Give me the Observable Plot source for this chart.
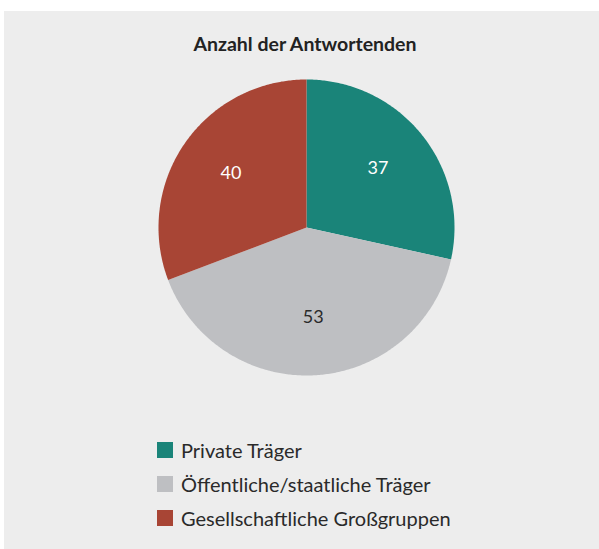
<!DOCTYPE html>
<html>
<head>
<meta charset="utf-8">
<script src="https://cdn.jsdelivr.net/npm/d3@7"></script>
<script src="https://cdn.jsdelivr.net/npm/@observablehq/plot@0.6"></script>
<style>
  html, body { margin: 0; padding: 0; background: #ffffff; width: 599px; height: 549px; overflow: hidden; }
  #panel { position: absolute; left: 4px; top: 11px; right: 0; bottom: 0; background: #ededed; }
  #title { position: absolute; left: 0; width: 610px; top: 32px; text-align: center; font-family: Lato, sans-serif; font-weight: bold; font-size: 19.5px; color: #222; }
  #chart { position: absolute; left: 155.5px; top: 76.5px; }
  #legend { position: absolute; left: 157px; top: 437px; font-family: Lato, sans-serif; font-size: 20px; color: #2a2a2a; }
  .row { position: relative; height: 34px; line-height: 26px; }
  .sw { position: absolute; left: 0; top: 5px; width: 16px; height: 16px; }
  .lab { position: absolute; left: 24px; top: 0; white-space: nowrap; }
</style>
</head>
<body>
<div id="panel"></div>
<div id="title">Anzahl der Antwortenden</div>
<div id="chart"></div>
<div id="legend"></div>
<script>
const categories = ["Private Träger", "Öffentliche/staatliche Träger", "Gesellschaftliche Großgruppen"];
const values = [37, 53, 40];
const colors = ["#1a8479", "#bebfc2", "#a84535"];
const labelColors = ["#ffffff", "#2a2a2a", "#ffffff"];

const pie = d3.pie().sort(null).value(d => d.value)(categories.map((c, i) => ({cat: c, value: values[i]})));

// Build slice polygons in unit coordinates (angle 0 = top, clockwise)
const pts = [];
pie.forEach(p => {
  const n = Math.max(2, Math.ceil((p.endAngle - p.startAngle) / 0.01));
  pts.push({cat: p.data.cat, x: 0, y: 0});
  for (let k = 0; k <= n; k++) {
    const a = p.startAngle + (p.endAngle - p.startAngle) * k / n;
    pts.push({cat: p.data.cat, x: Math.sin(a), y: Math.cos(a)});
  }
  pts.push({cat: p.data.cat, x: 0, y: 0});
});
const labels = pie.map((p, i) => {
  const a = (p.startAngle + p.endAngle) / 2;
  const r = 0.62;
  return {cat: p.data.cat, value: p.data.value, x: r * Math.sin(a), y: r * Math.cos(a), color: labelColors[i]};
});

const chart = Plot.plot({
  width: 300, height: 300,
  margin: 2,
  x: {domain: [-1, 1], axis: null},
  y: {domain: [-1, 1], axis: null},
  color: {domain: categories, range: colors},
  style: {background: "transparent", overflow: "visible"},
  marks: [
    ...categories.map(c => Plot.line(pts.filter(d => d.cat === c), {x: "x", y: "y", fill: colors[categories.indexOf(c)], stroke: "none", curve: "linear"})),
    Plot.text(labels, {x: "x", y: "y", text: "value", fill: "color", fontSize: 18, dy: -2, fontFamily: "Lato, sans-serif"})
  ]
});
document.getElementById("chart").appendChild(chart);

const legend = document.getElementById("legend");
categories.forEach((c, i) => {
  const row = document.createElement("div");
  row.className = "row";
  row.innerHTML = `<div class="sw" style="background:${colors[i]}"></div><div class="lab">${c}</div>`;
  legend.appendChild(row);
});
</script>
</body>
</html>
